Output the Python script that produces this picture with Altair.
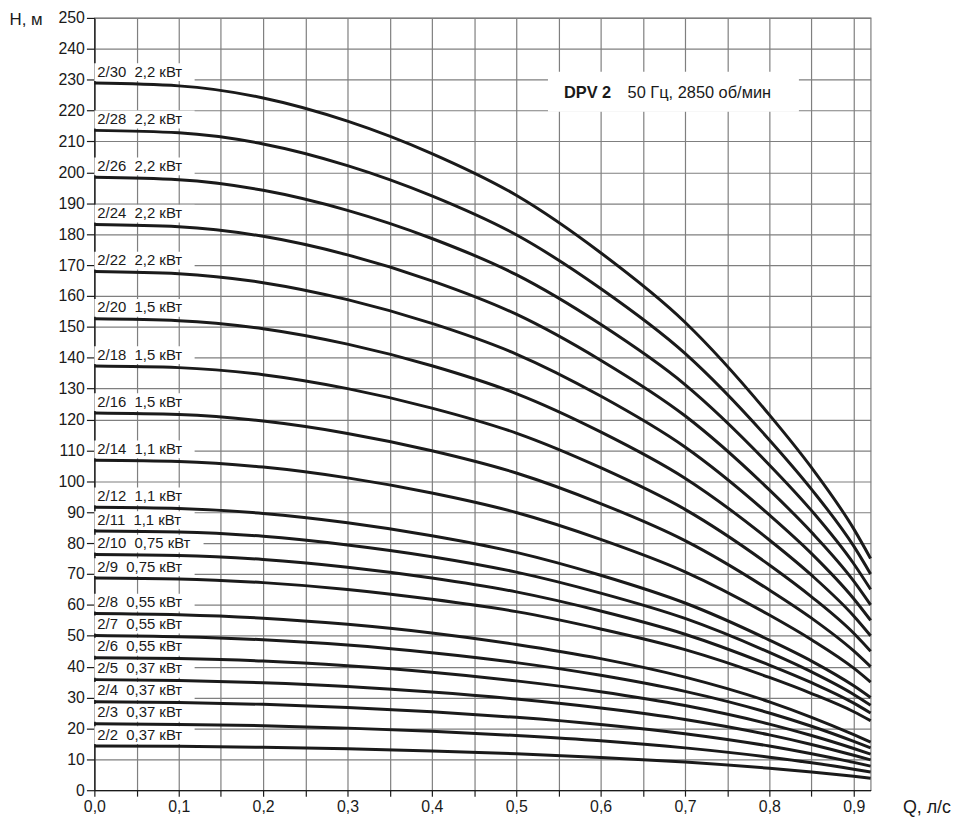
import altair as alt
import pandas as pd

# Flow rate Q, l/s (sample points)
Q = [0, 0.1, 0.2, 0.3, 0.4, 0.5, 0.6, 0.7, 0.8, 0.85, 0.9, 0.92]

# Head H, m for each pump model
H_2_30 = [228.9, 228.0, 224.1, 216.6, 206.1, 192.6, 174.0, 151.5, 121.5, 104.4, 84.6, 75.0]
H_2_28 = [213.6, 212.8, 209.2, 202.2, 192.4, 179.8, 162.4, 141.4, 113.4, 97.4, 79.0, 70.0]
H_2_26 = [198.4, 197.6, 194.2, 187.7, 178.6, 166.9, 150.8, 131.3, 105.3, 90.5, 73.3, 65.0]
H_2_24 = [183.1, 182.4, 179.3, 173.3, 164.9, 154.1, 139.2, 121.2, 97.2, 83.5, 67.7, 60.0]
H_2_22 = [167.9, 167.2, 164.3, 158.8, 151.1, 141.2, 127.6, 111.1, 89.1, 76.6, 62.0, 55.0]
H_2_20 = [152.6, 152.0, 149.4, 144.4, 137.4, 128.4, 116.0, 101.0, 81.0, 69.6, 56.4, 50.0]
H_2_18 = [137.3, 136.8, 134.5, 130.0, 123.7, 115.6, 104.4, 90.9, 72.9, 62.6, 50.8, 45.0]
H_2_16 = [122.1, 121.6, 119.5, 115.5, 109.9, 102.7, 92.8, 80.8, 64.8, 55.7, 45.1, 40.0]
H_2_14 = [106.8, 106.4, 104.6, 101.1, 96.2, 89.9, 81.2, 70.7, 56.7, 48.7, 39.5, 35.0]
H_2_12 = [91.6, 91.2, 89.6, 86.6, 82.4, 77.0, 69.6, 60.6, 48.6, 41.8, 33.8, 30.0]
H_2_11 = [83.9, 83.6, 82.2, 79.4, 75.6, 70.6, 63.8, 55.6, 44.6, 38.3, 31.0, 27.5]
H_2_10 = [76.3, 76.0, 74.7, 72.2, 68.7, 64.2, 58.0, 50.5, 40.5, 34.8, 28.2, 25.0]
H_2_9 = [68.7, 68.4, 67.2, 65.0, 61.8, 57.8, 52.2, 45.5, 36.5, 31.3, 25.4, 22.5]
H_2_8 = [57.2, 56.8, 55.7, 53.7, 50.9, 47.2, 42.6, 36.6, 28.6, 23.6, 18.0, 15.6]
H_2_7 = [50.1, 49.7, 48.7, 47.0, 44.5, 41.3, 37.2, 32.0, 25.0, 20.7, 15.8, 13.7]
H_2_6 = [42.9, 42.6, 41.8, 40.3, 38.2, 35.4, 31.9, 27.4, 21.4, 17.7, 13.5, 11.7]
H_2_5 = [35.8, 35.5, 34.8, 33.6, 31.8, 29.5, 26.6, 22.9, 17.9, 14.8, 11.3, 9.8]
H_2_4 = [28.6, 28.4, 27.8, 26.8, 25.4, 23.6, 21.3, 18.3, 14.3, 11.8, 9.0, 7.8]
H_2_3 = [21.5, 21.3, 20.9, 20.1, 19.1, 17.7, 16.0, 13.7, 10.7, 8.9, 6.8, 5.9]
H_2_2 = [14.3, 14.2, 13.9, 13.4, 12.7, 11.8, 10.6, 9.1, 7.1, 5.9, 4.5, 3.9]

models = ["2/30", "2/28", "2/26", "2/24", "2/22", "2/20", "2/18", "2/16", "2/14",
          "2/12", "2/11", "2/10", "2/9", "2/8", "2/7", "2/6", "2/5", "2/4", "2/3", "2/2"]
powers = ["2,2", "2,2", "2,2", "2,2", "2,2", "1,5", "1,5", "1,5", "1,1",
          "1,1", "1,1", "0,75", "0,75", "0,55", "0,55", "0,55", "0,37", "0,37", "0,37", "0,37"]
heads = [H_2_30, H_2_28, H_2_26, H_2_24, H_2_22, H_2_20, H_2_18, H_2_16, H_2_14,
         H_2_12, H_2_11, H_2_10, H_2_9, H_2_8, H_2_7, H_2_6, H_2_5, H_2_4, H_2_3, H_2_2]

x_ticks = [0, 0.05, 0.1, 0.15, 0.2, 0.25, 0.3, 0.35, 0.4, 0.45, 0.5, 0.55,
           0.6, 0.65, 0.7, 0.75, 0.8, 0.85, 0.9]
y_ticks = list(range(0, 251, 10))

rows = []
for m, hs in zip(models, heads):
    for q, h in zip(Q, hs):
        rows.append({"model": m, "q": q, "h": h})
df = pd.DataFrame(rows)

labels = pd.DataFrame({
    "model": models,
    "label": [m + "\u00a0\u00a0" + p + " кВт" for m, p in zip(models, powers)],
    "h0": [hs[0] for hs in heads],
})

FONT = "Liberation Sans"
INK = "#1a1a1a"

xscale = alt.Scale(domain=[0, 0.92], nice=False, zero=True)
yscale = alt.Scale(domain=[0, 250], nice=False, zero=True)

xaxis = alt.Axis(
    values=x_ticks, grid=True, tickSize=6, labelPadding=2, labelOverlap=False,
    labelExpr="round(datum.value * 20) % 2 == 0 ? replace(format(datum.value, '.1f'), '.', ',') : ''",
    title="Q, л/с", titleX=814, titleY=17, titleAlign="left", titleBaseline="middle",
    titleFontSize=18, titleFontWeight="normal", labelFontSize=16, labelFlush=False,
)
yaxis = alt.Axis(
    values=y_ticks, grid=True, tickSize=8, labelPadding=2, labelOverlap=False,
    labelBound=False, labelFlush=False,
    title="H, м", titleX=-86, titleY=2, titleAlign="left", titleBaseline="middle",
    titleAngle=0, titleFontSize=17, titleFontWeight="normal", labelFontSize=16,
)


def X(*args, **kw):
    return alt.X(*args, scale=xscale, axis=xaxis, **kw)


def Y(*args, **kw):
    return alt.Y(*args, scale=yscale, axis=yaxis, **kw)


lines = alt.Chart(df).mark_line(
    color=INK, strokeWidth=3, interpolate="monotone"
).encode(x=X("q:Q"), y=Y("h:Q"), detail="model:N")

boxes_normal = alt.Chart(labels).transform_filter(alt.datum.model != "2/10").mark_rect(
    color="white", yOffset=-2, y2Offset=-20
).encode(x=alt.value(0), x2=alt.value(101), y=Y("h0:Q"), y2=alt.Y2("h0:Q"))

boxes_wide = alt.Chart(labels).transform_filter(alt.datum.model == "2/10").mark_rect(
    color="white", yOffset=-2, y2Offset=-20
).encode(x=alt.value(0), x2=alt.value(110), y=Y("h0:Q"), y2=alt.Y2("h0:Q"))

texts = alt.Chart(labels).mark_text(
    align="left", baseline="middle", dx=3, dy=-11.5, fontSize=15, font=FONT, color=INK
).encode(x=X(datum=0), y=Y("h0:Q"), text="label:N")

ann = pd.DataFrame({"t": ["DPV 2"]})
ann_box = alt.Chart(ann).mark_rect(color="white").encode(
    x=X(datum=0.5376), x2=alt.datum(0.835),
    y=Y(datum=219.6), y2=alt.datum(232.6),
)
ann_bold = alt.Chart(ann).mark_text(
    align="left", baseline="middle", fontSize=16.5, fontWeight="bold", font=FONT, color=INK
).encode(x=X(datum=0.5565), y=Y(datum=225.7), text=alt.value("DPV 2"))
ann_text = alt.Chart(ann).mark_text(
    align="left", baseline="middle", fontSize=16.5, font=FONT, color=INK
).encode(x=X(datum=0.632), y=Y(datum=225.7), text=alt.value("50 Гц, 2850 об/мин"))

chart = alt.layer(
    boxes_normal, boxes_wide, ann_box, lines, texts, ann_bold, ann_text
).properties(
    width=782, height=778,
    padding={"left": 87, "top": 7, "right": 85, "bottom": 25},
    autosize=alt.AutoSizeParams(type="none"),
).configure_axis(
    labelFont=FONT, titleFont=FONT, labelColor=INK, titleColor=INK, labelOverlap=False,
    gridColor="#7f7f7f", gridWidth=1.2, gridOpacity=1,
    domainColor=INK, domainWidth=1.3, tickColor=INK, tickWidth=1.2,
).configure_view(stroke="#7f7f7f", strokeWidth=1.2)

chart.save("out.html", embed_options={"renderer": "svg", "actions": False})
